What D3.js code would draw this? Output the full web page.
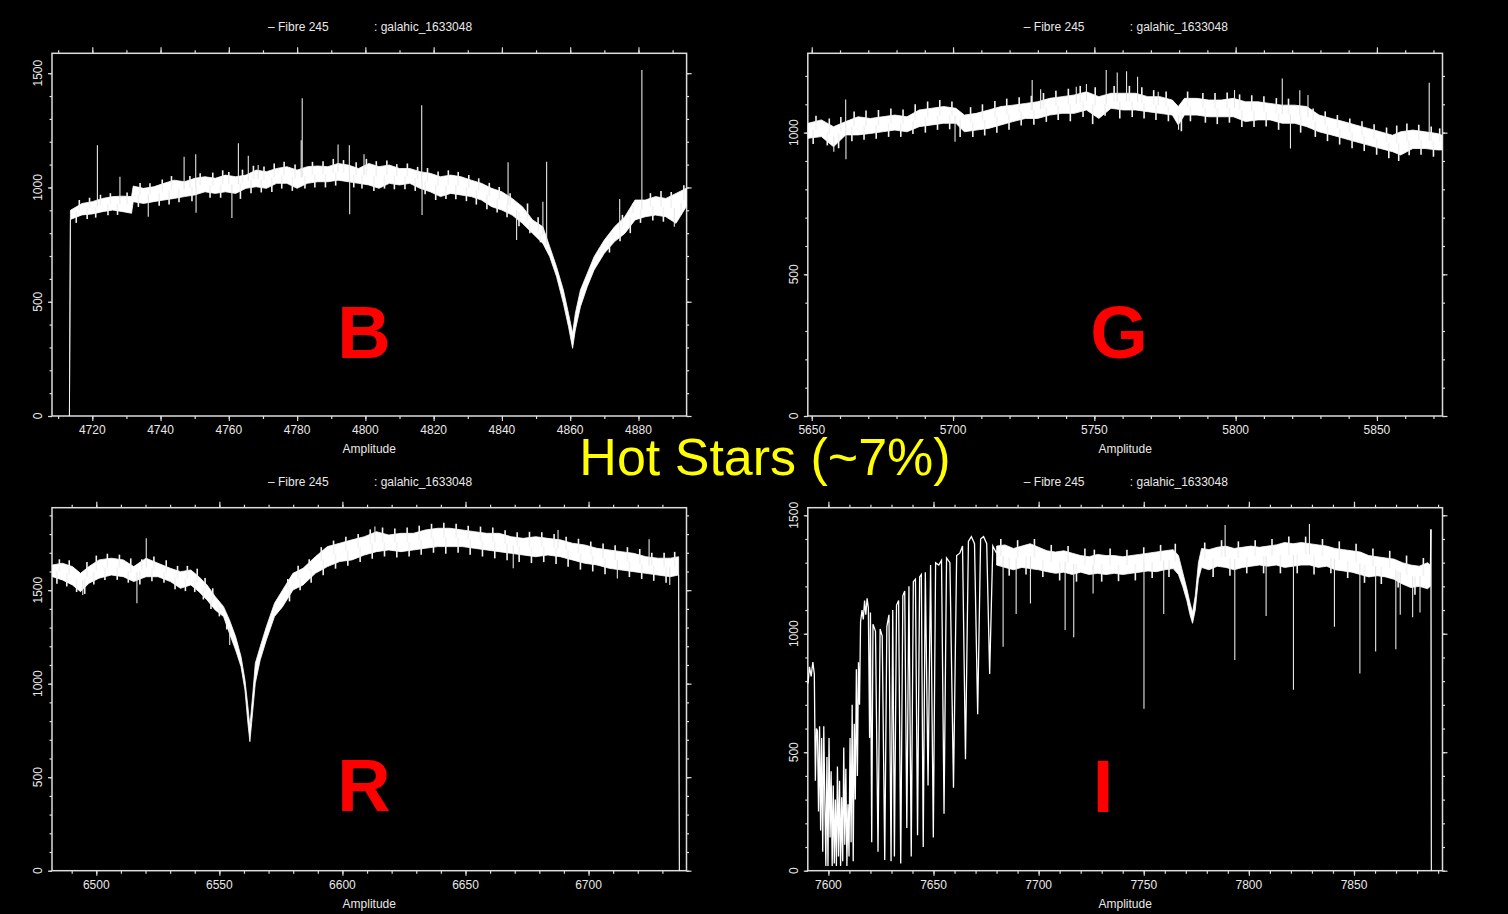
<!DOCTYPE html>
<html>
<head>
<meta charset="utf-8">
<script src="https://cdn.jsdelivr.net/npm/d3@7"></script>
<style>
  body { margin: 0; background: #000; }
  svg { display: block; }
  text { font-family: "Liberation Sans", Arial, sans-serif; }
</style>
</head>
<body>
<div id="vis"></div>
<script>
////////// data //////////

// band = [wavelength, lower edge, upper edge] of the noisy spectrum
var bBand = [
  [4713.3, 0, 0], [4713.6, 860, 900], [4717, 880, 930], [4720, 884, 938], [4723, 894, 952],
  [4726, 901, 960], [4729, 894, 962], [4731.5, 887, 960], [4732, 938, 1006], [4735, 930, 996],
  [4738, 938, 1003], [4741, 945, 1018], [4744, 952, 1032], [4747, 960, 1025], [4750, 967, 1040],
  [4753, 981, 1047], [4756, 974, 1040], [4759, 981, 1054], [4762, 974, 1047], [4765, 996, 1054],
  [4768, 1003, 1076], [4771, 996, 1069], [4774, 1018, 1083], [4777, 1018, 1091], [4780, 996, 1076],
  [4783, 1018, 1091], [4786, 1025, 1094], [4789, 1025, 1091], [4792, 1032, 1105], [4795, 1025, 1098],
  [4798, 1018, 1083], [4801, 1011, 1105], [4804, 996, 1091], [4807, 1018, 1098], [4810, 1011, 1083],
  [4813, 1018, 1083], [4816, 996, 1069], [4819, 981, 1062], [4822, 960, 1047], [4825, 974, 1054],
  [4828, 967, 1047], [4831, 960, 1032], [4834, 945, 1018], [4837, 916, 996], [4840, 901, 981],
  [4843, 879, 952], [4846, 843, 916], [4849, 799, 858], [4852, 755, 828], [4854, 697, 741],
  [4856, 610, 653], [4858, 493, 551], [4859.5, 391, 449], [4860.7, 296, 362], [4861.5, 376, 449],
  [4863, 478, 551], [4865, 566, 624], [4867, 639, 697], [4870, 712, 770], [4873, 763, 828],
  [4876, 799, 872], [4879, 858, 945], [4882, 872, 945], [4885, 879, 960], [4888, 872, 952],
  [4891, 843, 974], [4894, 916, 996]
];
// spikes = [wavelength, tip value]
var bSpikes = [
  [4721.5, 1185], [4728.1, 1047], [4736.4, 872], [4746.9, 1134], [4750.3, 1145], [4750.4, 889],
  [4760.9, 866], [4762.8, 1193], [4765.7, 1139], [4768.6, 1098], [4781.2, 1207], [4781.5, 1390],
  [4792, 1188], [4795.3, 1185], [4795.4, 883], [4799.6, 1145], [4816.5, 1360], [4816.6, 879],
  [4841.8, 1110], [4844.3, 770], [4852, 937], [4853.1, 1113], [4874.5, 950], [4881, 1514], [4890.5, 828]
];
// small noise whiskers along the band edges
var bFuzz = [
  [4715.3, 845], [4716.2, 945], [4718.5, 862], [4719.2, 955], [4721, 868], [4722.4, 968], [4724.6, 878],
  [4725.3, 975], [4727.4, 880], [4730.2, 978], [4733.5, 915], [4734, 1020], [4736.9, 1018], [4739.6, 920],
  [4740.5, 1035], [4742.5, 925], [4743.2, 1050], [4745.4, 935], [4748.6, 1050], [4749.2, 940],
  [4751.6, 1062], [4754.5, 955], [4755.3, 1065], [4757.6, 955], [4758.2, 1075], [4760, 1068],
  [4763.4, 950], [4764, 1078], [4766.5, 975], [4767.2, 1095], [4769.5, 978], [4770.3, 1092],
  [4772.6, 980], [4773.3, 1105], [4775.5, 995], [4776.2, 1112], [4778.6, 985], [4779.4, 1100],
  [4782.3, 995], [4784.5, 1112], [4785.2, 1000], [4787.6, 1115], [4788.3, 1000], [4790.6, 1125],
  [4791.3, 1008], [4793.6, 1120], [4796.6, 1000], [4797.3, 1110], [4799, 995], [4800.3, 1125],
  [4802.5, 985], [4803.2, 1115], [4805.6, 995], [4806.3, 1118], [4808.5, 992], [4809.2, 1102],
  [4811.6, 992], [4812.3, 1105], [4814.6, 985], [4815.3, 1090], [4817.5, 970], [4818.2, 1085],
  [4820.6, 945], [4821.3, 1070], [4823.6, 950], [4824.3, 1075], [4826.5, 948], [4827.2, 1068],
  [4829.6, 940], [4830.3, 1055], [4832.5, 925], [4833.2, 1040], [4835.6, 905], [4836.3, 1020],
  [4838.6, 890], [4839.2, 1002], [4841.5, 870], [4842.4, 975], [4845, 830], [4847.5, 930],
  [4848.2, 800], [4850.6, 870], [4851.3, 760], [4853.6, 720], [4868.6, 735], [4871.5, 715],
  [4872.4, 805], [4874.6, 765], [4875.3, 880], [4877.6, 800], [4878.4, 930], [4880.6, 845],
  [4883.5, 975], [4884.2, 855], [4886.6, 985], [4887.3, 850], [4889.6, 980], [4892.5, 880], [4893.3, 1010]
];

var gBand = [
  [5648.7, 980, 1033], [5653.4, 986, 1045], [5657.7, 950, 1021], [5662, 992, 1039], [5666.4, 992, 1056],
  [5670.7, 997, 1050], [5675, 1003, 1056], [5679.4, 1009, 1062], [5683.7, 1003, 1056], [5688, 1021, 1080],
  [5692.4, 1027, 1086], [5696.7, 1033, 1092], [5701, 1033, 1086], [5704, 1003, 1062], [5708.2, 1009, 1068],
  [5712.6, 1015, 1080], [5716.9, 1027, 1092], [5721.2, 1039, 1097], [5725.6, 1050, 1103], [5729.9, 1050, 1109],
  [5734.2, 1062, 1121], [5738.6, 1068, 1127], [5742.9, 1068, 1133], [5747.2, 1080, 1144], [5751.6, 1050, 1127],
  [5755.9, 1086, 1139], [5760.2, 1080, 1139], [5764.6, 1080, 1139], [5768.9, 1074, 1127], [5773.2, 1068, 1127],
  [5777.6, 1062, 1115], [5779.7, 1027, 1092], [5781.9, 1062, 1121], [5786.2, 1062, 1121], [5790.5, 1056, 1115],
  [5794.9, 1056, 1115], [5799.2, 1056, 1121], [5803.5, 1039, 1109], [5807.9, 1045, 1109], [5812.2, 1045, 1103],
  [5816.5, 1033, 1097], [5820.9, 1033, 1097], [5825.2, 1021, 1092], [5829.5, 1003, 1062], [5833.9, 992, 1050],
  [5838.2, 980, 1039], [5842.5, 968, 1027], [5846.9, 956, 1015], [5851.2, 944, 1003], [5855.5, 933, 991],
  [5858.4, 921, 1003], [5862.7, 944, 1009], [5867, 944, 1003], [5871.4, 939, 997], [5873, 939, 991]
];
var gSpikes = [
  [5657.8, 933], [5662, 1117], [5662.1, 906], [5700.7, 968], [5728, 1186], [5731, 1153],
  [5743.6, 1162], [5747.2, 1172], [5754.2, 1221], [5758.1, 1212], [5761.4, 1217], [5765.3, 1197],
  [5772.6, 1144], [5779.8, 1010], [5799.6, 1150], [5816.5, 1191], [5819.4, 944], [5822.7, 1150],
  [5825.6, 1133], [5868.5, 1176]
];
var gFuzz = [
  [5650.5, 960], [5651.5, 1060], [5655.5, 955], [5656.2, 1050], [5659.5, 945], [5660.3, 1055],
  [5664.2, 970], [5665, 1075], [5668.5, 975], [5669.2, 1078], [5672.8, 978], [5673.6, 1080],
  [5677.2, 985], [5678, 1085], [5681.5, 985], [5682.3, 1082], [5685.8, 995], [5686.6, 1100],
  [5690.2, 1000], [5691, 1110], [5694.5, 1010], [5695.3, 1115], [5698.8, 1012], [5699.6, 1110],
  [5702.5, 985], [5706.2, 1090], [5707, 985], [5710.4, 1100], [5711.2, 990], [5714.8, 1112],
  [5715.5, 1000], [5719, 1120], [5719.8, 1010], [5723.4, 1125], [5724.1, 1025], [5727.7, 1130],
  [5728.6, 1028], [5732, 1140], [5733, 1038], [5736.4, 1148], [5737.2, 1045], [5740.8, 1155],
  [5741.5, 1040], [5745, 1165], [5746, 1055], [5749.4, 1030], [5750.3, 1160], [5753.8, 1060],
  [5757, 1165], [5759, 1050], [5762.4, 1165], [5763.4, 1055], [5766.8, 1160], [5767.6, 1050],
  [5771, 1150], [5771.8, 1045], [5775.4, 1145], [5776.2, 1040], [5780.8, 1005], [5783, 1145],
  [5784, 1040], [5788.4, 1140], [5789.3, 1035], [5792.7, 1140], [5793.5, 1030], [5797, 1142],
  [5797.8, 1035], [5801.4, 1135], [5802.2, 1020], [5805.7, 1132], [5806.5, 1020], [5810, 1128],
  [5810.8, 1022], [5814.4, 1122], [5815.2, 1010], [5818.7, 1120], [5823, 1000], [5827.4, 1085],
  [5828.2, 985], [5831.7, 1075], [5832.5, 970], [5836, 1062], [5836.8, 958], [5840.4, 1050],
  [5841.2, 945], [5844.7, 1040], [5845.5, 935], [5849, 1030], [5849.9, 922], [5853.4, 1018],
  [5854.2, 910], [5857, 1025], [5857.7, 900], [5860.6, 1032], [5861.4, 920], [5864.8, 1028],
  [5865.6, 922], [5869.2, 1022], [5870, 915], [5872.2, 1015]
];

var rBand = [
  [6482.2, 1572, 1635], [6486.2, 1555, 1644], [6490.3, 1528, 1626], [6493.6, 1492, 1590], [6497, 1537, 1626],
  [6501.1, 1564, 1662], [6506.1, 1581, 1671], [6511, 1572, 1662], [6515.2, 1546, 1626], [6520.2, 1572, 1671],
  [6525.1, 1572, 1644], [6530.1, 1546, 1617], [6534.2, 1510, 1599], [6538.4, 1528, 1608], [6541.7, 1492, 1572],
  [6545, 1448, 1528], [6548.3, 1394, 1466], [6551.7, 1359, 1412], [6554.1, 1269, 1341], [6556.6, 1180, 1252],
  [6558.8, 1091, 1145], [6560.4, 966, 1020], [6561.6, 788, 877], [6562.4, 690, 770], [6563.6, 859, 949],
  [6564.6, 1002, 1109], [6566.6, 1127, 1198], [6569.1, 1234, 1305], [6572.4, 1359, 1430], [6575.7, 1412, 1501],
  [6579.9, 1501, 1590], [6584, 1528, 1617], [6589, 1590, 1679], [6593.9, 1626, 1733], [6598.9, 1653, 1751],
  [6603.9, 1662, 1769], [6608.9, 1688, 1786], [6613.8, 1706, 1813], [6618.8, 1715, 1795], [6623.8, 1706, 1804],
  [6628.8, 1715, 1804], [6633.7, 1724, 1822], [6638.7, 1733, 1831], [6643.7, 1733, 1831], [6648.7, 1733, 1822],
  [6653.6, 1724, 1813], [6658.6, 1715, 1804], [6663.6, 1706, 1804], [6668.6, 1697, 1786], [6673.5, 1688, 1777],
  [6678.5, 1679, 1786], [6683.5, 1688, 1777], [6688.5, 1679, 1769], [6693.4, 1662, 1751], [6698.4, 1644, 1742],
  [6703.4, 1635, 1724], [6708.4, 1617, 1715], [6713.3, 1608, 1706], [6718.3, 1599, 1697], [6723.3, 1590, 1679],
  [6728.2, 1581, 1671], [6733.2, 1572, 1671], [6736.6, 1581, 1679], [6736.9, 0, 0]
];
var rSpikes = [
  [6494.5, 1474], [6516.5, 1430], [6520.3, 1777], [6554.2, 1207], [6613.2, 1840],
  [6669.4, 1617], [6687.6, 1822], [6711.7, 1563], [6724.6, 1772], [6733, 1528]
];
var rFuzz = [
  [6484, 1535], [6485, 1665], [6488, 1520], [6489, 1660], [6492, 1490], [6495.3, 1480], [6496.2, 1650],
  [6499, 1530], [6500, 1685], [6503.5, 1555], [6504.5, 1695], [6508.5, 1555], [6509.4, 1690],
  [6513, 1540], [6514, 1670], [6517.7, 1530], [6518.5, 1665], [6522.6, 1548], [6523.4, 1680],
  [6527.5, 1540], [6528.4, 1660], [6532, 1505], [6533, 1630], [6536.2, 1495], [6537, 1630],
  [6540, 1490], [6541, 1615], [6543.5, 1450], [6544.2, 1565], [6546.6, 1400], [6547.3, 1510],
  [6550, 1360], [6553, 1290], [6577.8, 1560], [6578.5, 1440], [6582, 1630], [6582.8, 1500],
  [6586.5, 1665], [6587.3, 1540], [6591.4, 1730], [6592.2, 1580], [6596.4, 1765], [6597.2, 1615],
  [6601.4, 1785], [6602.2, 1630], [6606.4, 1800], [6607.2, 1650], [6611.3, 1825], [6612.1, 1668],
  [6616.3, 1835], [6617.1, 1680], [6621.3, 1830], [6622.1, 1675], [6626.3, 1835], [6627.1, 1680],
  [6631.2, 1845], [6632, 1690], [6636.2, 1855], [6637, 1700], [6641.2, 1860], [6642, 1695],
  [6646.2, 1855], [6647, 1700], [6651.1, 1845], [6651.9, 1690], [6656.1, 1840], [6656.9, 1680],
  [6661.1, 1835], [6661.9, 1670], [6666.1, 1820], [6666.9, 1660], [6671, 1810], [6671.8, 1650],
  [6676, 1812], [6676.8, 1645], [6681, 1810], [6681.8, 1650], [6686, 1800], [6686.8, 1640],
  [6690.9, 1785], [6691.7, 1625], [6695.9, 1775], [6696.7, 1610], [6700.9, 1760], [6701.7, 1600],
  [6705.9, 1750], [6706.7, 1585], [6710.8, 1740], [6715.8, 1730], [6716.6, 1570], [6720.8, 1720],
  [6721.6, 1560], [6725.7, 1700], [6726.5, 1550], [6730.7, 1700], [6731.5, 1540], [6735, 1705]
];

// I band: telluric comb drawn as a plain line, then the noisy band
var iComb = [
  [7590.3, 790], [7591, 860], [7591.8, 820], [7592.6, 880], [7593.3, 830],
  [7593.8, 380], [7594.3, 600], [7594.8, 590], [7595.3, 250], [7595.8, 610], [7596.3, 170],
  [7596.8, 560], [7597.3, 80], [7597.8, 610], [7598.3, 300], [7598.8, 20], [7599.3, 480],
  [7599.8, 20], [7600.3, 560], [7600.8, 140], [7601.3, 420], [7601.8, 20], [7602.3, 360],
  [7602.8, 30], [7603.3, 300], [7603.8, 20], [7604.3, 440], [7604.8, 60], [7605.3, 380],
  [7605.8, 20], [7606.3, 310], [7606.8, 40], [7607.3, 520], [7607.8, 110], [7608.3, 430],
  [7608.8, 20], [7609.3, 280], [7609.8, 60], [7610.3, 560], [7610.8, 120], [7611.3, 700],
  [7611.8, 40], [7612.3, 620], [7612.8, 300], [7613.3, 850], [7613.8, 400], [7614.3, 880],
  [7614.8, 700], [7615.3, 1050], [7616, 1100], [7616.6, 1060], [7617.2, 1140], [7617.8, 1080],
  [7618.4, 1150], [7619, 1110], [7619.6, 560], [7620, 1090], [7620.6, 120], [7621.2, 1040],
  [7622.4, 1010], [7623.6, 80], [7624.6, 1020], [7625.6, 990], [7626.8, 45], [7627.8, 1030],
  [7628.8, 1080], [7629.8, 40], [7630.6, 1100], [7631.4, 60], [7632.4, 1120], [7633.4, 1140],
  [7634.4, 30], [7635.4, 1160], [7636.3, 1180], [7637.3, 180], [7638.3, 1200], [7639.4, 60],
  [7640.4, 1220], [7641.4, 1230], [7642.4, 150], [7643.4, 1240], [7644.2, 1250], [7645.1, 100],
  [7646.1, 1260], [7647.4, 360], [7648.6, 1290], [7649.9, 140], [7651, 1300], [7652.5, 1290],
  [7653.8, 1310], [7655, 240], [7656.2, 1320], [7657.8, 1300], [7659.5, 350], [7661, 1330],
  [7662.5, 1340], [7663.8, 1370], [7665.2, 470], [7666.6, 1390], [7668, 1410], [7669.5, 1380],
  [7671, 660], [7672.4, 1400], [7673.8, 1410], [7675.3, 1380], [7676.7, 830], [7678.2, 1370],
  [7680, 1340]
];
var iBand = [
  [7680, 1290, 1370], [7684, 1280, 1375], [7688, 1270, 1360], [7692, 1280, 1370], [7696, 1275, 1380],
  [7700, 1270, 1365], [7704, 1262, 1350], [7708, 1255, 1345], [7712, 1260, 1350], [7716, 1250, 1340],
  [7720, 1260, 1330], [7724, 1250, 1325], [7728, 1255, 1335], [7732, 1250, 1330], [7736, 1255, 1330],
  [7740, 1250, 1325], [7744, 1255, 1330], [7748, 1260, 1335], [7752, 1265, 1340], [7756, 1262, 1345],
  [7760, 1270, 1350], [7764, 1275, 1355], [7766.5, 1250, 1330], [7768.5, 1200, 1260], [7770.5, 1140, 1190],
  [7772, 1080, 1130], [7773.2, 1044, 1090], [7774.5, 1100, 1160], [7776, 1230, 1300], [7777.5, 1280, 1360],
  [7781, 1270, 1355], [7785, 1285, 1365], [7789, 1280, 1370], [7793, 1270, 1360], [7797, 1280, 1365],
  [7801, 1285, 1370], [7805, 1290, 1365], [7809, 1285, 1370], [7813, 1290, 1375], [7817, 1280, 1385],
  [7821, 1285, 1380], [7825, 1290, 1385], [7829, 1290, 1380], [7833, 1280, 1375], [7837, 1285, 1370],
  [7841, 1270, 1360], [7845, 1265, 1355], [7849, 1260, 1350], [7853, 1250, 1345], [7857, 1240, 1330],
  [7861, 1245, 1325], [7865, 1240, 1320], [7869, 1230, 1315], [7873, 1210, 1300], [7877, 1195, 1290],
  [7881, 1200, 1285], [7885, 1190, 1300], [7886.3, 1200, 1290], [7886.6, 1440, 1440], [7886.8, 0, 0]
];
var iSpikes = [
  [7683.1, 945], [7689.3, 1083], [7696.1, 1128], [7712.6, 1016], [7716.7, 985], [7725.9, 1170],
  [7750.1, 684], [7759.5, 1083], [7788.7, 1459], [7793.3, 889], [7808.2, 1075], [7821.2, 764],
  [7828.8, 1463], [7840.7, 1030], [7852.8, 832], [7860.3, 925], [7869.9, 935], [7872, 1080],
  [7877.9, 1070], [7881.4, 1090]
];
var iFuzz = [
  [7682, 1400], [7686, 1245], [7690, 1395], [7694, 1250], [7698, 1400], [7702, 1240], [7706, 1375],
  [7710, 1225], [7714, 1370], [7718, 1220], [7722, 1360], [7726.5, 1355], [7730, 1220], [7734, 1360],
  [7738, 1222], [7742, 1355], [7746, 1225], [7750, 1365], [7754, 1235], [7758, 1375], [7762, 1240],
  [7765, 1380], [7779, 1385], [7783, 1240], [7787, 1395], [7791, 1245], [7795, 1390], [7799, 1255],
  [7803, 1395], [7807, 1255], [7811, 1400], [7815, 1255], [7819, 1410], [7823, 1255], [7827, 1410],
  [7831, 1250], [7835, 1400], [7839, 1255], [7843, 1390], [7847, 1235], [7851, 1380], [7855, 1215],
  [7859, 1360], [7863, 1210], [7867, 1350], [7871, 1195], [7875, 1330], [7879, 1165], [7883, 1320]
];

// axes
var bXTicks = [4720, 4740, 4760, 4780, 4800, 4820, 4840, 4860, 4880];
var gXTicks = [5650, 5700, 5750, 5800, 5850];
var rXTicks = [6500, 6550, 6600, 6650, 6700];
var iXTicks = [7600, 7650, 7700, 7750, 7800, 7850];
var bYTicks = [0, 500, 1000, 1500];
var gYTicks = [0, 500, 1000];
var rYTicks = [0, 500, 1000, 1500];
var iYTicks = [0, 500, 1000, 1500];

var titleLeft  = "\u2013 Fibre 245";
var titleRight = ": galahic_1633048";
var xTitle = "Amplitude";
var headline = "Hot Stars (~7%)";

var panels = [
  { tag: "B", band: bBand, spikes: bSpikes, fuzz: bFuzz, comb: null, xDomain: [4708.2, 4894.1], yDomain: [0, 1587],
    frame: [52, 686.6, 53.3, 416], xTicks: bXTicks, yTicks: bYTicks, tagPos: [364, 358] },
  { tag: "G", band: gBand, spikes: gSpikes, fuzz: gFuzz, comb: null, xDomain: [5648.6, 5873.2], yDomain: [0, 1280],
    frame: [807.8, 1442.5, 53.3, 416], xTicks: gXTicks, yTicks: gYTicks, tagPos: [1119, 358] },
  { tag: "R", band: rBand, spikes: rSpikes, fuzz: rFuzz, comb: null, xDomain: [6482, 6739.8], yDomain: [0, 1941],
    frame: [52, 686.5, 507.7, 870.7], xTicks: rXTicks, yTicks: rYTicks, tagPos: [364, 811] },
  { tag: "I", band: iBand, spikes: iSpikes, fuzz: iFuzz, comb: iComb, xDomain: [7590.2, 7892.1], yDomain: [0, 1532],
    frame: [807.8, 1442.5, 507.7, 870.7], xTicks: iXTicks, yTicks: iYTicks, tagPos: [1103, 812] }
];

////////// drawing //////////

var W = 1508, H = 914;
var svg = d3.select("#vis").append("svg")
  .attr("width", W)
  .attr("height", H);

svg.append("rect").attr("width", W).attr("height", H).attr("fill", "#000");

var axisColor = "#dcdcdc";
var textColor = "#e8e8e8";

panels.forEach(drawPanel);

function minorValues(domain, step) {
  return d3.range(Math.ceil(domain[0] / step) * step, domain[1], step);
}

function styleAxis(sel) {
  sel.select(".domain").remove();
  sel.selectAll("line").attr("stroke", axisColor).attr("stroke-width", 1.2);
}

function drawPanel(p) {
  var f = p.frame;
  var x = d3.scaleLinear().domain(p.xDomain).range([f[0], f[1]]);
  var y = d3.scaleLinear().domain(p.yDomain).range([f[3], f[2]]);
  var g = svg.append("g");

  var xMinor = minorValues(p.xDomain, 10);
  var yMinor = minorValues(p.yDomain, 100);

  // ticks on all four sides, pointing out
  [[d3.axisBottom, f[3], 5, 3], [d3.axisTop, f[2], 6, 3]].forEach(function (a) {
    g.append("g").attr("transform", "translate(0," + a[1] + ")")
      .call(a[0](x).tickValues(xMinor).tickSize(a[3]).tickFormat(""))
      .call(styleAxis);
    g.append("g").attr("transform", "translate(0," + a[1] + ")")
      .call(a[0](x).tickValues(p.xTicks).tickSize(a[2]).tickFormat(""))
      .call(styleAxis);
  });
  [[d3.axisLeft, f[0], 4, 2.5], [d3.axisRight, f[1], 5, 2.5]].forEach(function (a) {
    g.append("g").attr("transform", "translate(" + a[1] + ",0)")
      .call(a[0](y).tickValues(yMinor).tickSize(a[3]).tickFormat(""))
      .call(styleAxis);
    g.append("g").attr("transform", "translate(" + a[1] + ",0)")
      .call(a[0](y).tickValues(p.yTicks).tickSize(a[2]).tickFormat(""))
      .call(styleAxis);
  });

  // frame
  g.append("rect")
    .attr("x", f[0]).attr("y", f[2])
    .attr("width", f[1] - f[0]).attr("height", f[3] - f[2])
    .attr("fill", "none")
    .attr("stroke", axisColor)
    .attr("stroke-width", 1.5);

  // tick labels
  g.selectAll(".xl").data(p.xTicks).enter().append("text")
    .attr("x", function (d) { return x(d); })
    .attr("y", f[3] + 18)
    .attr("text-anchor", "middle")
    .attr("font-size", 12)
    .attr("fill", textColor)
    .text(function (d) { return d; });

  g.selectAll(".yl").data(p.yTicks).enter().append("text")
    .attr("transform", function (d) { return "translate(" + (f[0] - 14) + "," + y(d) + ") rotate(-90)"; })
    .attr("dy", "0.35em")
    .attr("text-anchor", "middle")
    .attr("font-size", 12)
    .attr("fill", textColor)
    .text(function (d) { return d; });

  // titles
  g.append("text").attr("x", f[0] + 216).attr("y", f[2] - 22)
    .attr("font-size", 12).attr("fill", textColor).text(titleLeft);
  g.append("text").attr("x", f[0] + 322).attr("y", f[2] - 22)
    .attr("font-size", 12).attr("fill", textColor).text(titleRight);
  g.append("text").attr("x", (f[0] + f[1]) / 2).attr("y", f[3] + 37)
    .attr("text-anchor", "middle")
    .attr("font-size", 12).attr("fill", textColor).text(xTitle);

  // spectrum
  var area = d3.area()
    .x(function (d) { return x(d[0]); })
    .y0(function (d) { return y(d[1]); })
    .y1(function (d) { return y(d[2]); });

  g.append("path").datum(p.band)
    .attr("d", area)
    .attr("fill", "#fff")
    .attr("stroke", "#fff")
    .attr("stroke-width", 0.8);

  if (p.comb) {
    var line = d3.line()
      .x(function (d) { return x(d[0]); })
      .y(function (d) { return y(d[1]); });
    g.append("path").datum(p.comb)
      .attr("d", line)
      .attr("fill", "none")
      .attr("stroke", "#fff")
      .attr("stroke-width", 1.3);
  }

  var bis = d3.bisector(function (d) { return d[0]; }).left;
  function mid(w) {
    var i = Math.max(1, Math.min(p.band.length - 1, bis(p.band, w)));
    var a = p.band[i - 1], b = p.band[i];
    var t = (w - a[0]) / (b[0] - a[0]);
    return ((a[1] + a[2]) / 2) * (1 - t) + ((b[1] + b[2]) / 2) * t;
  }

  function whiskers(data, cls, color, width) {
    g.selectAll("." + cls).data(data).enter().append("line")
      .attr("class", cls)
      .attr("x1", function (d) { return x(d[0]); })
      .attr("x2", function (d) { return x(d[0]); })
      .attr("y1", function (d) { return y(mid(d[0])); })
      .attr("y2", function (d) { return y(d[1]); })
      .attr("stroke", color)
      .attr("stroke-width", width);
  }
  whiskers(p.fuzz, "fuzz", "#f2f2f2", 1.6);
  whiskers(p.spikes, "spike", "#e6e6e6", 1.1);

  // band letter
  svg.append("text")
    .attr("x", p.tagPos[0]).attr("y", p.tagPos[1])
    .attr("text-anchor", "middle")
    .attr("font-size", 74)
    .attr("font-weight", "bold")
    .attr("fill", "#ff0000")
    .text(p.tag);
}

svg.append("text")
  .attr("x", 765).attr("y", 475)
  .attr("text-anchor", "middle")
  .attr("font-size", 52)
  .attr("fill", "#ffff00")
  .text(headline);
</script>
</body>
</html>
